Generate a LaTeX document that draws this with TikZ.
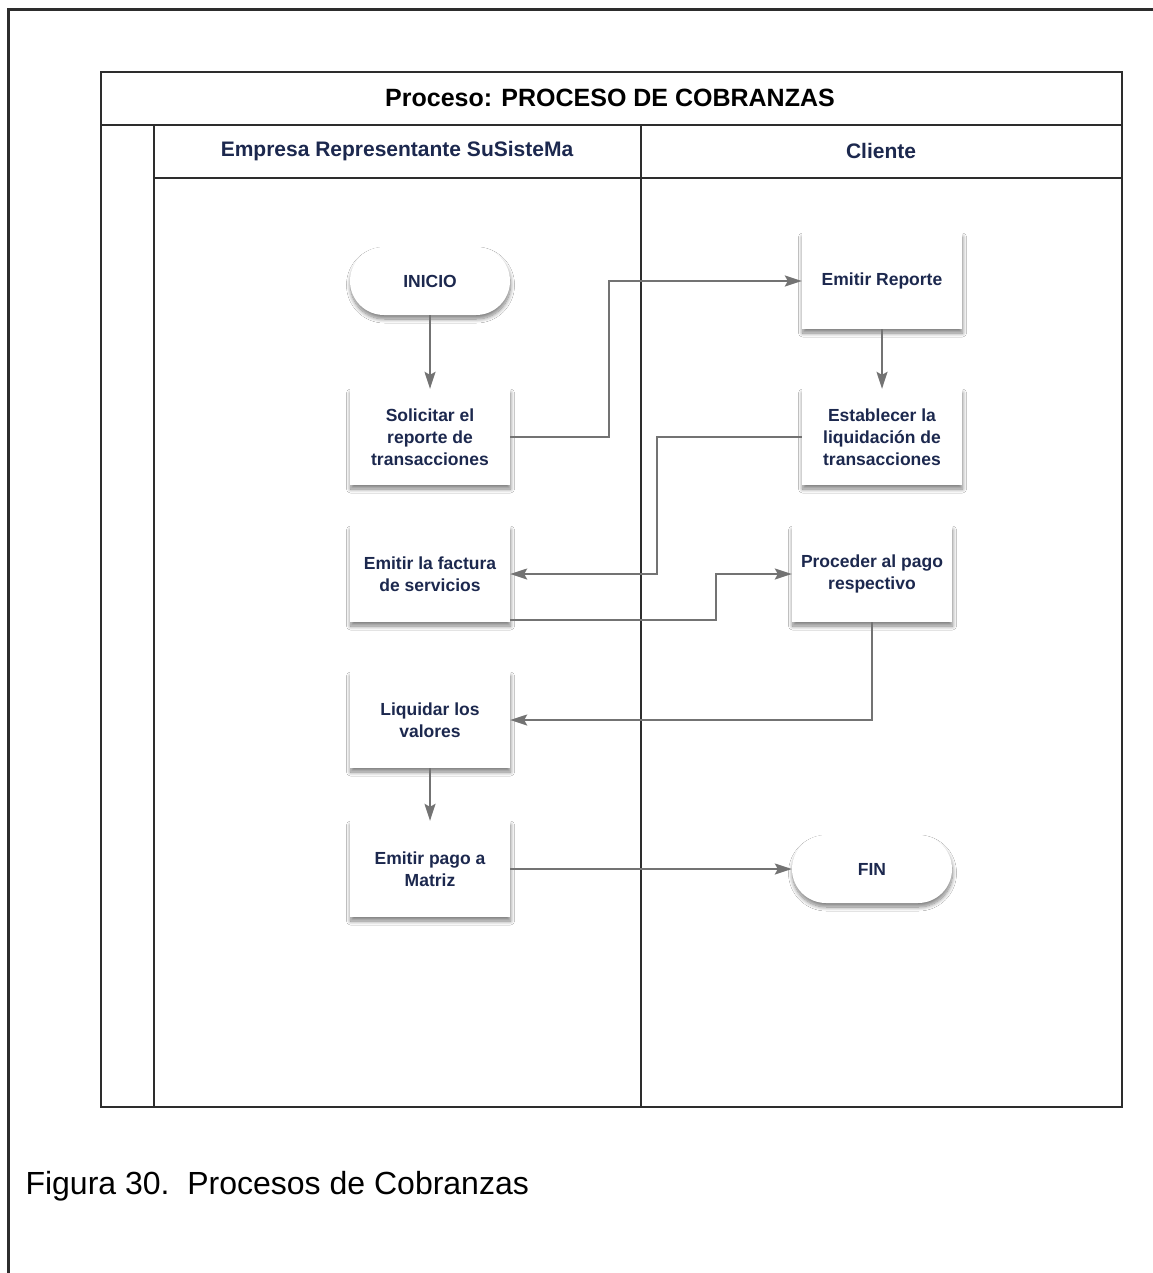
\documentclass[tikz,border=0pt]{standalone}
\usepackage{fontspec}
\setmainfont{Liberation Sans}
\usetikzlibrary{arrows.meta,shadows.blur,calc}
\definecolor{frameclr}{RGB}{45,45,45}
\definecolor{navy}{RGB}{28,40,78}
\definecolor{linkclr}{RGB}{115,115,115}
\begin{document}
\begin{tikzpicture}[x=1pt,y=-1pt,
  frameline/.style={draw=frameclr,line width=1.4pt},
  outerline/.style={draw=frameclr,line width=2.4pt},
  stepbox/.style={draw=none,fill=white,minimum width=160pt,minimum height=96pt,
    align=center,text=navy,font=\bfseries\fontsize{17.5}{22}\selectfont,
    blur shadow={shadow xshift=0.5pt,shadow yshift=-4pt,shadow blur radius=4pt,shadow blur steps=10,shadow opacity=50}},
  terminal/.style={stepbox,minimum height=68pt,rounded corners=34pt},
  link/.style={draw=linkclr,line width=1.5pt,
    -{Stealth[length=17pt,width=11pt,inset=3pt]}}
]
\useasboundingbox (0,0) rectangle (1152,1273);
\fill[white] (0,0) rectangle (1152,1273);

% outer page frame
\draw[outerline] (8.5,1280) -- (8.5,9.5) -- (1160,9.5);

% pool with title row, lane headers and lanes
\draw[frameline] (101,72) rectangle (1122,1107);
\draw[frameline] (101,125) -- (1122,125);
\draw[frameline] (154,178) -- (1122,178);
\draw[frameline] (154,125) -- (154,1107);
\draw[frameline] (641,125) -- (641,1107);

\node[font=\bfseries\fontsize{25}{30}\selectfont] (title) at (610,98) {Proceso: PROCESO DE COBRANZAS};
\node[font=\bfseries\fontsize{21}{25}\selectfont,text=navy] (laneA) at (397,151) {Empresa Representante SuSisteMa};
\node[font=\bfseries\fontsize{21}{25}\selectfont,text=navy] (laneB) at (881,151) {Cliente};

% steps of the company lane
\node[terminal] (inicio) at (430,281) {INICIO};
\node[stepbox] (sol) at (430,437) {Solicitar el\\reporte de\\transacciones};
\node[stepbox] (fac) at (430,574) {Emitir la factura\\de servicios};
\node[stepbox] (liq) at (430,720) {Liquidar los\\valores};
\node[stepbox] (pag) at (430,869) {Emitir pago a\\Matriz};

% steps of the client lane
\node[stepbox] (rep) at (882,281) {Emitir Reporte};
\node[stepbox] (est) at (882,437) {Establecer la\\liquidación de\\transacciones};
\node[stepbox] (pro) at (872,574) {Proceder al pago\\respectivo};
\node[terminal] (fin) at (872,869) {FIN};

% flow
\draw[link] (inicio.south) -- (sol.north);
\draw[link] (sol.east) -- ++(99,0) |- (rep.west);
\draw[link] (rep.south) -- (est.north);
\draw[link] (est.west) -- ++(-145,0) |- (fac.east);
\draw[link] ([yshift=2pt]fac.south east) -| ([xshift=-76pt]pro.west) -- (pro.west);
\draw[link] (pro.south) |- (liq.east);
\draw[link] (liq.south) -- (pag.north);
\draw[link] (pag.east) -- (fin.west);

% caption
\node[anchor=base west,font=\fontsize{32}{38}\selectfont] (caption) at (22,1194) {Figura 30.\ \ Procesos de Cobranzas};
\end{tikzpicture}
\end{document}
